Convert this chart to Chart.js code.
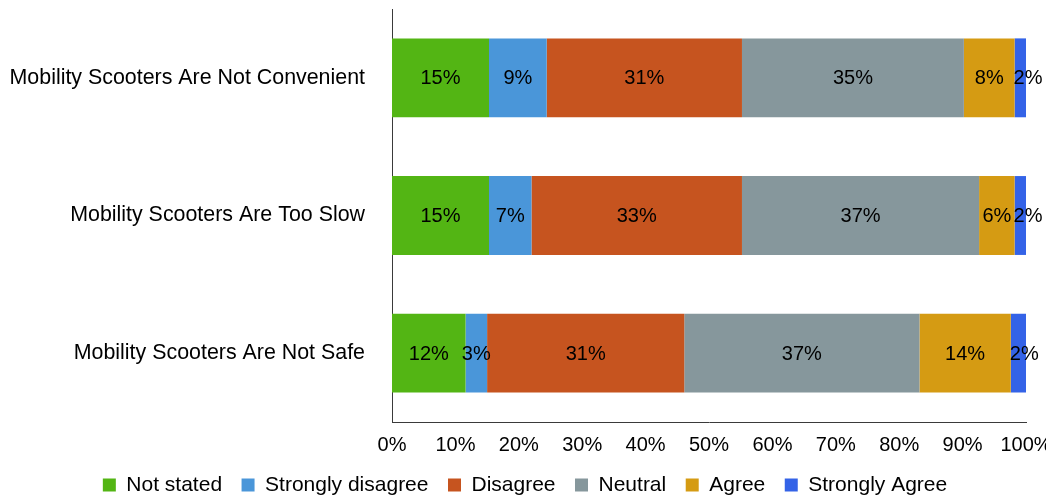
<!DOCTYPE html>
<html>
<head>
<meta charset="utf-8">
<script src="https://cdn.jsdelivr.net/npm/chart.js@4/dist/chart.umd.min.js"></script>
<style>
  html, body { margin: 0; padding: 0; background: #ffffff; }
  #wrap { width: 1046px; height: 499px; position: relative; }
</style>
</head>
<body>
<div id="wrap"><canvas id="chart" width="1046" height="499"></canvas></div>
<script>
// Survey statements (one bar each)
const statements = [
  'Mobility Scooters Are Not Convenient',
  'Mobility Scooters Are Too Slow',
  'Mobility Scooters Are Not Safe'
];

// Response categories, in stacking order
const responses = ['Not stated', 'Strongly disagree', 'Disagree', 'Neutral', 'Agree', 'Strongly Agree'];

// Share of respondents (%) per statement, one array per response
const notStated        = [15.3, 15.3, 11.6];
const stronglyDisagree = [9.1, 6.7, 3.4];
const disagree         = [30.8, 33.2, 31.1];
const neutral          = [35.0, 37.4, 37.1];
const agree            = [8.0, 5.6, 14.4];
const stronglyAgree    = [1.8, 1.8, 2.4];

// Axis ticks (%)
const xTicks = [0, 10, 20, 30, 40, 50, 60, 70, 80, 90, 100];

const seriesValues = [notStated, stronglyDisagree, disagree, neutral, agree, stronglyAgree];
const seriesColors = ['#53b514', '#4a96d9', '#c6541f', '#86979c', '#d59b13', '#3463e7'];

const FONT = "'Liberation Sans', Arial, Helvetica, sans-serif";

// Writes the rounded percentage inside each bar segment
const segmentLabels = {
  id: 'segmentLabels',
  afterDatasetsDraw(chart) {
    const ctx = chart.ctx;
    ctx.save();
    ctx.font = '20px ' + FONT;
    ctx.fillStyle = '#000000';
    ctx.textBaseline = 'middle';
    const last = chart.data.datasets.length - 1;
    chart.data.datasets.forEach((ds, di) => {
      const meta = chart.getDatasetMeta(di);
      meta.data.forEach((bar, i) => {
        const v = ds.data[i];
        const text = Math.round(v) + '%';
        const w = ctx.measureText(text).width;
        const start = Math.min(bar.base, bar.x);
        const end = Math.max(bar.base, bar.x);
        if (di === last && w > end - start) {
          ctx.textAlign = 'left';
          ctx.fillText(text, start - 1, bar.y + 1);
        } else {
          ctx.textAlign = 'center';
          ctx.fillText(text, (start + end) / 2, bar.y + 1);
        }
      });
    });
    ctx.restore();
  }
};

// Centres the legend row under the whole canvas and lifts it a little
const legendOffset = {
  id: 'legendOffset',
  afterLayout(chart) {
    const lg = chart.legend;
    if (lg) {
      lg.top -= 7;
      lg.left += 12;
      lg.right += 12;
    }
  }
};

new Chart(document.getElementById('chart'), {
  type: 'bar',
  data: {
    labels: statements,
    datasets: responses.map((name, k) => ({
      label: name,
      data: seriesValues[k],
      backgroundColor: seriesColors[k],
      borderWidth: 0,
      categoryPercentage: 1,
      barPercentage: 0.573
    }))
  },
  options: {
    indexAxis: 'y',
    responsive: false,
    animation: false,
    events: [],
    layout: { padding: { top: 9, right: 20, left: 0, bottom: 0 } },
    scales: {
      x: {
        stacked: true,
        min: 0,
        max: 100,
        afterBuildTicks(scale) {
          scale.ticks = xTicks.map(v => ({ value: v }));
        },
        afterFit(scale) {
          scale.height = 40;
          scale.paddingLeft = 0;
          scale.paddingRight = 0;
        },
        grid: { display: false, drawTicks: false },
        border: { display: true, color: '#3a3a3a', width: 1 },
        ticks: {
          padding: 11,
          color: '#000000',
          font: { family: FONT, size: 20 },
          maxRotation: 0,
          autoSkip: false,
          callback: v => v + '%'
        }
      },
      y: {
        stacked: true,
        afterFit(scale) {
          scale.width = 392;
          scale.paddingTop = 0;
          scale.paddingBottom = 0;
        },
        grid: { display: false, drawTicks: false },
        border: { display: true, color: '#3a3a3a', width: 1 },
        ticks: {
          padding: 27,
          color: '#000000',
          font: { family: FONT, size: 21.4 }
        }
      }
    },
    plugins: {
      tooltip: { enabled: false },
      legend: {
        position: 'bottom',
        maxHeight: 37,
        labels: {
          boxWidth: 13,
          boxHeight: 13,
          padding: 19.5,
          color: '#000000',
          font: { family: FONT, size: 21 }
        }
      }
    }
  },
  plugins: [segmentLabels, legendOffset]
});
</script>
</body>
</html>
